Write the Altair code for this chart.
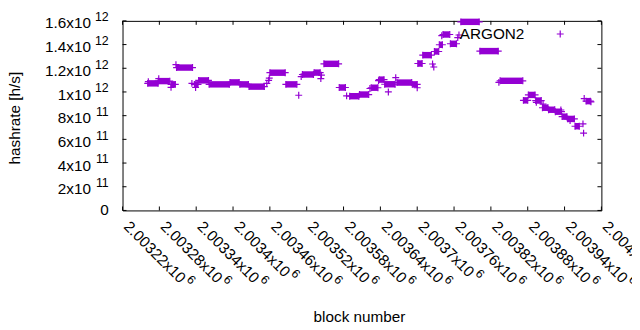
import altair as alt
import pandas as pd

# ---- data ----
# runs of consecutive blocks sharing the same hashrate estimate
seg_start = [2003261, 2003278, 2003299, 2003308, 2003337, 2003344, 2003361, 2003395, 2003411, 2003426,
             2003460, 2003486, 2003513, 2003532, 2003548, 2003573, 2003590, 2003606, 2003625, 2003638,
             2003647, 2003667, 2003692, 2003701, 2003709, 2003728, 2003736, 2003742, 2003754, 2003771,
             2003802, 2003835, 2003873, 2003881, 2003893, 2003904, 2003914, 2003925, 2003936, 2003945,
             2003957, 2003975]
seg_end = [2003278, 2003297, 2003306, 2003334, 2003343, 2003360, 2003394, 2003410, 2003425, 2003451,
           2003485, 2003504, 2003531, 2003542, 2003572, 2003583, 2003605, 2003621, 2003636, 2003646,
           2003664, 2003691, 2003700, 2003708, 2003723, 2003735, 2003741, 2003753, 2003764, 2003801,
           2003832, 2003872, 2003880, 2003892, 2003902, 2003913, 2003924, 2003935, 2003944, 2003956,
           2003964, 2003982]
seg_value = [1.0725e12, 1.0917e12, 1.0642e12, 1.2058e12, 1.0642e12, 1.0975e12, 1.0642e12, 1.0808e12, 1.0642e12, 1.045e12,
             1.1625e12, 1.0642e12, 1.1475e12, 1.1633e12, 1.2375e12, 1.0375e12, 0.9642e12, 0.9783e12, 1.0358e12, 1.1042e12,
             1.065e12, 1.0792e12, 1.0642e12, 1.24e12, 1.3108e12, 1.3417e12, 1.3983e12, 1.485e12, 1.4067e12, 1.5917e12,
             1.345e12, 1.0942e12, 0.9292e12, 0.975e12, 0.9275e12, 0.8667e12, 0.85e12, 0.8333e12, 0.7917e12, 0.7725e12,
             0.7108e12, 0.9225e12]
# isolated blocks
pt_block = [2003262, 2003279, 2003299, 2003307, 2003333, 2003339, 2003455, 2003458, 2003459, 2003507,
            2003511, 2003543, 2003544, 2003585, 2003623, 2003637, 2003653, 2003665, 2003700, 2003725,
            2003727, 2003740, 2003766, 2003768, 2003833, 2003894, 2003905, 2003934, 2003949, 2003970,
            2003971, 2003972, 2003983]
pt_value = [1.0875e12, 1.1125e12, 1.0392e12, 1.2308e12, 1.0725e12, 1.0375e12, 1.0725e12, 1.0975e12, 1.1167e12, 0.9725e12,
            1.1292e12, 1.1125e12, 1.1417e12, 0.9667e12, 1.0292e12, 1.0958e12, 1.0e12, 1.1208e12, 1.0358e12, 1.2358e12,
            1.2108e12, 1.475e12, 1.4583e12, 1.4808e12, 1.0808e12, 0.9125e12, 0.8975e12, 0.8475e12, 0.7583e12, 0.7308e12,
            0.6525e12, 0.9442e12, 0.9167e12]

x_ticks = [2003220, 2003280, 2003340, 2003400, 2003460, 2003520, 2003580, 2003640, 2003700,
           2003760, 2003820, 2003880, 2003940, 2004000]
x_tick_base = ["2.00322x10", "2.00328x10", "2.00334x10", "2.0034x10", "2.00346x10", "2.00352x10",
               "2.00358x10", "2.00364x10", "2.0037x10", "2.00376x10", "2.00382x10", "2.00388x10",
               "2.00394x10", "2.004x10"]
x_tick_exp = ["6"] * len(x_ticks)
y_ticks = [0, 2e11, 4e11, 6e11, 8e11, 1e12, 1.2e12, 1.4e12, 1.6e12]
y_tick_base = ["0", "2x10", "4x10", "6x10", "8x10", "1x10", "1.2x10", "1.4x10", "1.6x10"]
y_tick_exp = ["", "11", "11", "11", "11", "12", "12", "12", "12"]
series_name = "ARGON2"
x_title = "block number"
y_title = "hashrate [h/s]"

# ---- styling ----
W, H = 485, 192
PURPLE = "#9400d3"
FONT = "Liberation Sans"
FS = 15.5
FS_EXP = 12.5
PLUS = "M-1,0L1,0M0,-1L0,1"
xs = alt.Scale(domain=[2003220, 2004000], nice=False, zero=False)
ys = alt.Scale(domain=[0, 1.6e12], nice=False, zero=False)

seg_df = pd.DataFrame({"start": seg_start, "end": seg_end, "value": seg_value})
pts_df = pd.concat([
    pd.DataFrame({"block": pt_block, "value": pt_value}),
    pd.DataFrame({"block": seg_start + seg_end, "value": seg_value + seg_value}),
], ignore_index=True)

runs = alt.Chart(seg_df).mark_rule(color=PURPLE, strokeWidth=6.5, strokeCap="butt").encode(
    x=alt.X("start:Q", scale=xs, axis=None),
    x2="end:Q",
    y=alt.Y("value:Q", scale=ys, axis=None),
)
pts = alt.Chart(pts_df).mark_point(shape=PLUS, size=49, filled=False, color=PURPLE,
                                   strokeWidth=1.2, opacity=1).encode(
    x=alt.X("block:Q", scale=xs, axis=None),
    y=alt.Y("value:Q", scale=ys, axis=None),
)

# ticks (inward, mirrored)
xt_df = pd.DataFrame({"t": x_ticks, "base": x_tick_base, "exp": x_tick_exp,
                      "n": [len(s) for s in x_tick_base]})
yt_df = pd.DataFrame({"t": y_ticks, "base": y_tick_base, "exp": y_tick_exp})
xq = alt.X("t:Q", scale=xs, axis=None)
yq = alt.Y("t:Q", scale=ys, axis=None)
tick_layers = [
    alt.Chart(xt_df).mark_rule(color="black", strokeWidth=1).encode(x=xq, y=alt.value(H), y2=alt.value(H - 4)),
    alt.Chart(xt_df).mark_rule(color="black", strokeWidth=1).encode(x=xq, y=alt.value(0), y2=alt.value(4)),
    alt.Chart(yt_df).mark_rule(color="black", strokeWidth=1).encode(y=yq, x=alt.value(0), x2=alt.value(4)),
    alt.Chart(yt_df).mark_rule(color="black", strokeWidth=1).encode(y=yq, x=alt.value(W - 4), x2=alt.value(W)),
]

# x tick labels (rotated, with superscript exponent)
def adv(s, fs):
    w = {".": 0.278, "x": 0.5}
    return fs * sum(w.get(c, 0.556) for c in s)

XL_Y = H + 17
xlab = [alt.Chart(xt_df).mark_text(angle=45, align="left", baseline="alphabetic", font=FONT,
                                   fontSize=FS, color="black", dx=0.5).encode(
    x=xq, y=alt.value(XL_Y), text="base:N")]
for n in sorted(set(xt_df["n"])):
    sample = xt_df[xt_df["n"] == n]["base"].iloc[0]
    xlab.append(alt.Chart(xt_df).transform_filter(f"datum.n == {n}").mark_text(
        angle=45, align="left", baseline="alphabetic", font=FONT, fontSize=FS_EXP, color="black",
        dx=0.5 + adv(sample, FS) + 2, dy=-7.4).encode(x=xq, y=alt.value(XL_Y), text="exp:N"))

# y tick labels
ylab = [
    alt.Chart(yt_df).transform_filter("datum.exp != ''").mark_text(
        align="right", baseline="alphabetic", font=FONT, fontSize=FS, color="black", dy=7.7).encode(
        x=alt.value(-32), y=yq, text="base:N"),
    alt.Chart(yt_df).transform_filter("datum.exp != ''").mark_text(
        align="right", baseline="alphabetic", font=FONT, fontSize=FS_EXP, color="black", dy=0.3).encode(
        x=alt.value(-14), y=yq, text="exp:N"),
    alt.Chart(yt_df).transform_filter("datum.exp == ''").mark_text(
        align="right", baseline="alphabetic", font=FONT, fontSize=FS, color="black", dy=4.5).encode(
        x=alt.value(-14), y=yq, text="base:N"),
]

# titles and key
titles = [
    alt.Chart(pd.DataFrame({"s": [x_title]})).mark_text(
        align="center", baseline="alphabetic", font=FONT, fontSize=FS, color="black").encode(
        x=alt.value(240), y=alt.value(304.5), text="s:N"),
    alt.Chart(pd.DataFrame({"s": [y_title]})).mark_text(
        angle=270, align="center", baseline="alphabetic", font=FONT, fontSize=FS, color="black").encode(
        x=alt.value(-104), y=alt.value(98.5), text="s:N"),
    alt.Chart(pd.DataFrame({"s": [series_name]})).mark_text(
        align="right", baseline="alphabetic", font=FONT, fontSize=FS, color="black").encode(
        x=alt.value(407), y=alt.value(18.3), text="s:N"),
    alt.Chart(pd.DataFrame({"s": [series_name]})).mark_point(
        shape=PLUS, size=49, filled=False, color=PURPLE, strokeWidth=1.2, opacity=1).encode(
        x=alt.value(443.3), y=alt.value(13.3)),
]

chart = alt.layer(runs, pts, *tick_layers, *xlab, *ylab, *titles).properties(
    width=W, height=H,
    autosize=alt.AutoSizeParams(type="none"),
    padding={"left": 116, "top": 11, "right": 31, "bottom": 115},
    background="white",
).configure_view(stroke="black", strokeWidth=1)

chart.save("out.html", embed_options={"renderer": "svg", "actions": False})
